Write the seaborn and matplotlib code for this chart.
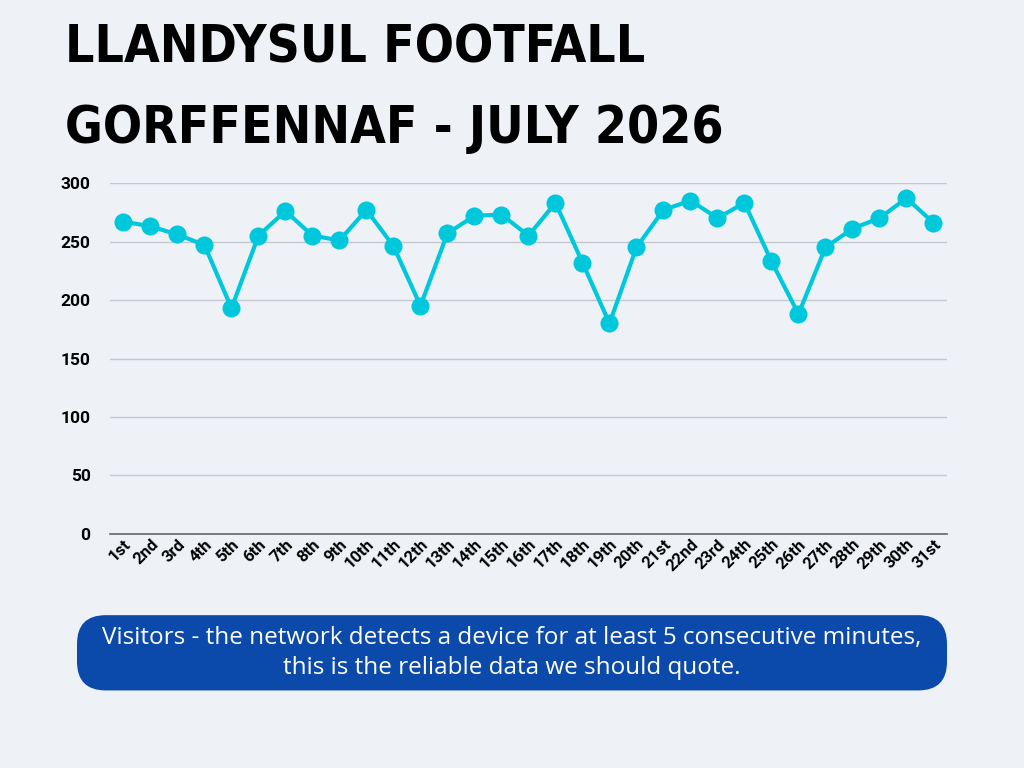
import pandas as pd
import seaborn as sns
import matplotlib.pyplot as plt
from matplotlib.patches import FancyBboxPatch

# Daily visitors, July 2026
days = ["1st", "2nd", "3rd", "4th", "5th", "6th", "7th", "8th", "9th", "10th",
        "11th", "12th", "13th", "14th", "15th", "16th", "17th", "18th", "19th", "20th",
        "21st", "22nd", "23rd", "24th", "25th", "26th", "27th", "28th", "29th", "30th", "31st"]
visitors = [267, 263, 256, 247, 193, 255, 276, 255, 251, 277,
            246, 195, 257, 272, 273, 255, 283, 232, 180, 245,
            277, 285, 270, 283, 233, 188, 245, 261, 270, 287, 266]
y_ticks = [0, 50, 100, 150, 200, 250, 300]

title_lines = ["LLANDYSUL FOOTFALL", "GORFFENNAF - JULY 2026"]
note = ("Visitors - the network detects a device for at least 5 consecutive minutes,\n"
        "this is the reliable data we should quote.")

bg = "#EEF2F7"
line_col = "#00C8DC"

df = pd.DataFrame({"day": days, "visitors": visitors})

sns.set_theme(style="whitegrid")
plt.rcParams['font.family'] = ['Roboto', 'DejaVu Sans']

fig = plt.figure(figsize=(10.24, 7.68), dpi=100, facecolor=bg)
ax = fig.add_axes([0.1074, 0.3047, 0.8174, 0.457])
ax.set_facecolor(bg)

sns.lineplot(data=df, x="day", y="visitors", ax=ax, color=line_col, linewidth=3,
             marker="o", markersize=13, markeredgewidth=0, sort=False, clip_on=False)

ax.set_xlim(-0.5, len(days) - 0.5)
ax.set_ylim(0, 300)
ax.set_yticks(y_ticks)
ax.set_xlabel("")
ax.set_ylabel("")
ax.grid(axis="x", visible=False)
ax.grid(axis="y", color="#C5C9CF", linewidth=1)
for s in ["top", "right", "left"]:
    ax.spines[s].set_visible(False)
ax.spines["bottom"].set_color("#666666")
ax.spines["bottom"].set_linewidth(1.2)
ax.tick_params(axis="y", labelsize=12.5, pad=14, length=0, labelcolor="black")
ax.tick_params(axis="x", labelsize=12, length=0, pad=2, labelcolor="black")
for lab in ax.get_yticklabels():
    lab.set_fontweight("bold")
for lab in ax.get_xticklabels():
    lab.set_fontweight("bold")
    lab.set_rotation(45)
    lab.set_ha("right")
    lab.set_rotation_mode("anchor")

# title, condensed face as the nearest match to the poster font
for i, t in enumerate(title_lines):
    fig.text(0.063, 0.919 - i * 0.105, t, fontsize=37, fontweight="bold",
             family=['DejaVu Sans'], fontstretch="condensed", color="black",
             ha="left", va="baseline")

# note box
box = FancyBboxPatch((0.0752, 0.101), 0.8496, 0.098,
                     boxstyle="round,pad=0,rounding_size=0.028", transform=fig.transFigure,
                     facecolor="#0B4AAA", edgecolor="none", mutation_aspect=1.333)
fig.patches.append(box)
fig.text(0.5, 0.15, note, ha="center", va="center", color="white", fontsize=17.5,
         family=['Open Sans', 'DejaVu Sans'], linespacing=1.3)

fig.savefig("out.png", dpi=100, facecolor=bg)
